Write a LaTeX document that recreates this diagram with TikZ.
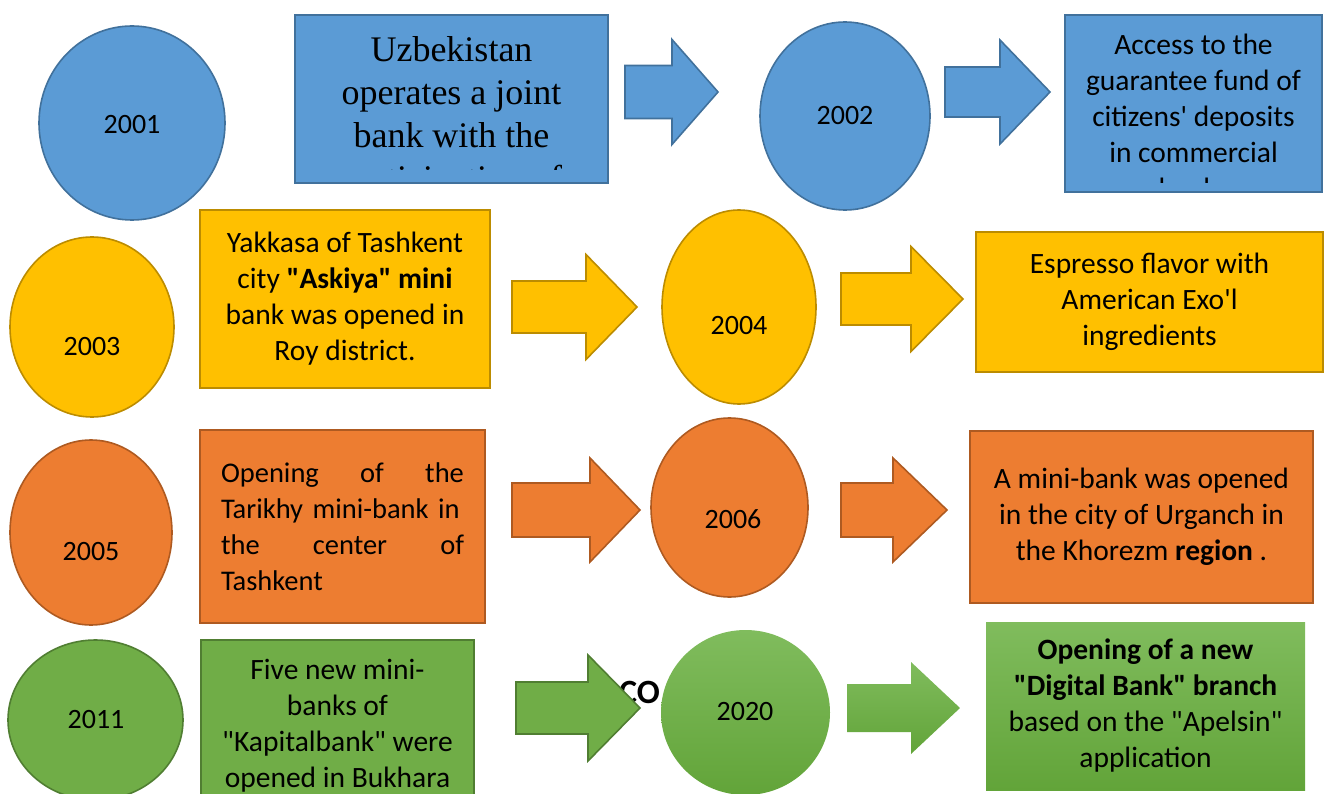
\documentclass[tikz,border=0pt]{standalone}
\usepackage{fontspec}
\setmainfont{Carlito}
\newfontfamily\tnrfont{Liberation Serif}
\usetikzlibrary{shapes.geometric, calc}
\definecolor{blFill}{RGB}{91,155,213}
\definecolor{blLine}{RGB}{65,113,156}
\definecolor{ylFill}{RGB}{255,192,0}
\definecolor{ylLine}{RGB}{188,140,0}
\definecolor{orFill}{RGB}{237,125,49}
\definecolor{orLine}{RGB}{174,90,33}
\definecolor{grFill}{RGB}{112,173,71}
\definecolor{grLine}{RGB}{80,126,50}
\definecolor{grTop}{RGB}{128,188,93}
\definecolor{grBot}{RGB}{98,164,57}
\newcommand{\dq}{\textquotedbl}

% block arrow: style, shaft start, head base, tip, mid y, shaft half, head half
\newcommand{\blockarr}[7]{%
  \draw[#1] (#2,#5-#6) -- (#3,#5-#6) -- (#3,#5-#7) -- (#4,#5)
    -- (#3,#5+#7) -- (#3,#5+#6) -- (#2,#5+#6) -- cycle;}

\begin{document}
\begin{tikzpicture}[
  x=1pt, y=-1pt,
  txt/.style = {font=\fontsize{29.5}{36}\selectfont},
  yr/.style = {font=\fontsize{28}{34}\selectfont, inner sep=0pt},
  disc/.style = {ellipse, draw, line width=1.6pt, inner sep=0pt},
  box/.style = {rectangle, draw, line width=1.6pt, inner sep=0pt,
    align=center, txt},
  barr/.style = {line width=1.6pt, line join=miter}
]
  \useasboundingbox (0,0) rectangle (1327,794);
  \clip (0,0) rectangle (1327,794);

  % 2001 - 2002
  \node[disc, fill=blFill, draw=blLine, minimum width=186pt, minimum height=194pt] (c2001) at (132,123) {};
  \node[yr] (t2001) at (132,125) {2001};
  \node[box, fill=blFill, draw=blLine, minimum width=313pt, minimum height=168pt] (b2001) at (451.5,99) {};
  \begin{scope}
    \clip (b2001.north west) rectangle ([yshift=14pt]b2001.south east);
    \node[anchor=north, align=center, inner sep=0pt,
      font=\tnrfont\fontsize{36}{43}\selectfont] (x2001) at ([yshift=-22pt]b2001.north)
      {Uzbekistan\\operates a joint\\bank with the\\participation of};
  \end{scope}
  \blockarr{barr, fill=blFill, draw=blLine}{625}{672}{718}{92}{26.5}{52.5}
  \node[disc, fill=blFill, draw=blLine, minimum width=170pt, minimum height=188pt] (c2002) at (845,116) {};
  \node[yr] (t2002) at (845,116) {2002};
  \blockarr{barr, fill=blFill, draw=blLine}{945}{1000}{1050}{92}{25}{52}
  \node[box, fill=blFill, draw=blLine, minimum width=257pt, minimum height=177pt] (b2002) at (1193.5,103.5) {};
  \begin{scope}
    \clip (b2002.north west) rectangle ([yshift=10pt]b2002.south east);
    \node[anchor=north, align=center, inner sep=0pt, txt] (x2002) at ([yshift=-20pt]b2002.north)
      {Access to the\\guarantee fund of\\citizens\textquotesingle{} deposits\\in commercial\\banks};
  \end{scope}

  % 2003 - 2004
  \node[disc, fill=ylFill, draw=ylLine, minimum width=164pt, minimum height=180pt] (c2003) at (92,327) {};
  \node[yr] (t2003) at (92,347) {2003};
  \node[box, fill=ylFill, draw=ylLine, minimum width=290pt, minimum height=178pt] (b2003) at (345,299)
    {Yakkasa of Tashkent\\city \textbf{\dq Askiya\dq{} mini}\\bank was opened in\\Roy district.};
  \blockarr{barr, fill=ylFill, draw=ylLine}{512}{586}{637}{307}{26}{52.5}
  \node[disc, fill=ylFill, draw=ylLine, minimum width=154pt, minimum height=194pt] (c2004) at (739,307) {};
  \node[yr] (t2004) at (739,326) {2004};
  \blockarr{barr, fill=ylFill, draw=ylLine}{841}{911}{963}{299}{26}{52.5}
  \node[box, fill=ylFill, draw=ylLine, minimum width=347pt, minimum height=140pt] (b2004) at (1149.5,302)
    {Espresso flavor with\\American Exo\textquotesingle l\\ingredients};

  % 2005 - 2006
  \node[disc, fill=orFill, draw=orLine, minimum width=162pt, minimum height=185pt] (c2005) at (91,532.5) {};
  \node[yr] (t2005) at (91,552) {2005};
  \node[box, fill=orFill, draw=orLine, minimum width=285pt, minimum height=193pt,
    text width=243pt, align=left, font=\fontsize{28.5}{36}\selectfont] (b2005) at (342.5,526.5)
    {Opening\hfill of\hfill the\\Tarikhy mini-bank in\\the\hfill center\hfill of\\Tashkent};
  \blockarr{barr, fill=orFill, draw=orLine}{512}{590}{640}{510}{27}{52}
  \node[disc, fill=orFill, draw=orLine, minimum width=157pt, minimum height=179pt] (c2006) at (729.5,507.5) {};
  \node[yr] (t2006) at (733,519) {2006};
  \blockarr{barr, fill=orFill, draw=orLine}{841}{893}{947}{510}{27}{52}
  \node[box, fill=orFill, draw=orLine, minimum width=343pt, minimum height=172pt] (b2006) at (1141.5,517)
    {A mini-bank was opened\\in the city of Urganch in\\the Khorezm \textbf{region} .};

  % 2011 - 2020
  \node[disc, fill=grFill, draw=grLine, minimum width=175pt, minimum height=160pt] (c2011) at (95.5,720) {};
  \node[yr] (t2011) at (96,720) {2011};
  \node[box, fill=grFill, draw=grLine, minimum width=273pt, minimum height=170pt] (b2011) at (337.5,725) {};
  \node[anchor=north, align=center, inner sep=0pt, txt] (x2011) at ([yshift=-20pt]b2011.north)
    {Five new mini-\\banks of\\\dq Kapitalbank\dq{} were\\opened in Bukhara};
  \node[anchor=west, inner sep=0pt, font=\fontsize{34}{40}\selectfont\bfseries] (co) at (619,692) {CO};
  \blockarr{barr, fill=grFill, draw=grLine}{516}{588}{640}{708}{26}{53}
  \node[disc, draw=none, top color=grTop, bottom color=grBot, minimum width=169pt, minimum height=165pt] (c2020) at (745.5,712.5) {};
  \node[yr] (t2020) at (745,712) {2020};
  \blockarr{barr, draw=none, top color=grTop, bottom color=grBot}{847}{911}{960}{708}{24}{46}
  \node[box, draw=none, top color=grTop, bottom color=grBot, minimum width=319pt, minimum height=168pt] (b2020) at (1145.5,706)
    {\textbf{Opening of a new}\\\textbf{\dq Digital Bank\dq{} branch}\\based on the \dq Apelsin\dq\\application};
\end{tikzpicture}
\end{document}
